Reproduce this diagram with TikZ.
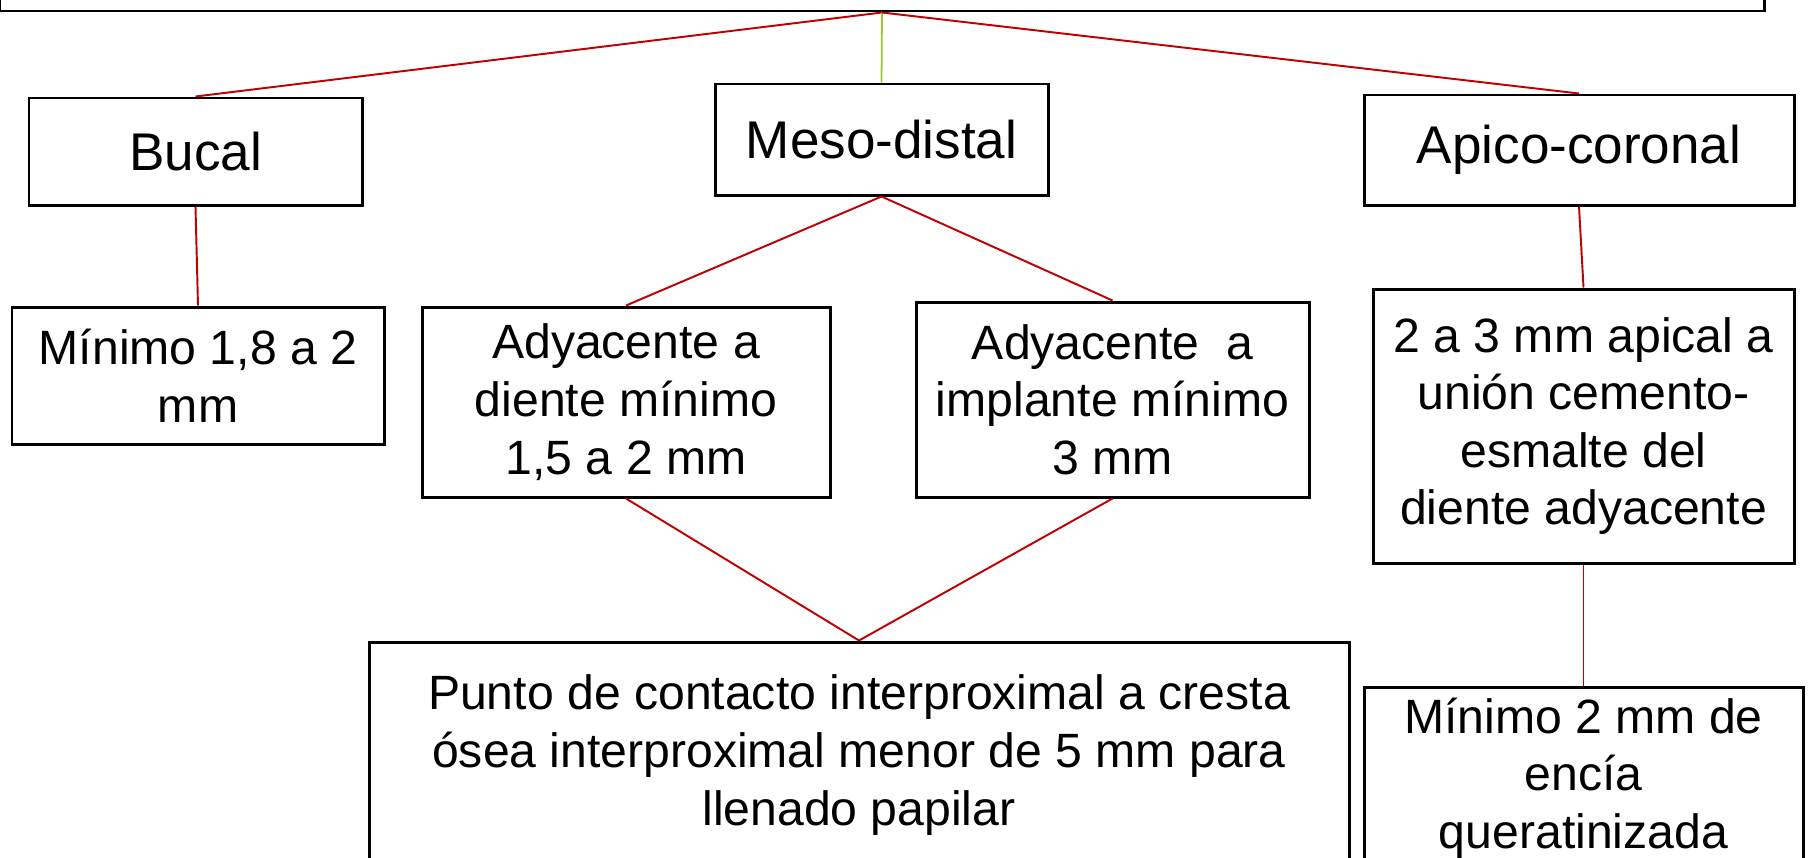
\documentclass[tikz,border=0pt]{standalone}
\usepackage{fontspec}
\setmainfont{Liberation Sans}
\usepackage{xcolor}
\usepackage{tikz}
\usetikzlibrary{positioning}
\definecolor{linkred}{RGB}{192,0,0}
\definecolor{linkgreen}{RGB}{155,200,50}
\tikzstyle{block} = [rectangle, draw, line width=0.85pt, fill=white,
    align=center, inner sep=0pt, font=\fontsize{13.7}{16.4}\selectfont]
\tikzstyle{head} = [block, font=\fontsize{15.1}{18}\selectfont]
\tikzstyle{line} = [draw, linkred, line width=0.55pt]
\tikzstyle{mainline} = [draw, linkgreen, line width=0.5pt]

\begin{document}
\begin{tikzpicture}
            \useasboundingbox (0,0) rectangle (18.08,-8.57);
            \clip (0,0) rectangle (18.08,-8.57);
            % Top
            \node [block, minimum width=17.64cm, minimum height=1cm] (top) at (8.82,0.39) {};
            
            % Second row
            \node [head, minimum width=3.33cm, minimum height=1.07cm] (bucal) at (1.955,-1.515) {Bucal};
            \node [head, minimum width=3.33cm, minimum height=1.11cm] (meso) at (8.815,-1.395) {Meso-distal};
            \node [head, minimum width=4.30cm, minimum height=1.10cm] (apico) at (15.79,-1.50) {Apico-coronal};
            
            % Third row
            \node [block, minimum width=3.72cm, minimum height=1.37cm] (bucalmin) at (1.98,-3.755) {Mínimo 1,8 a 2\\mm};
            \node [block, minimum width=4.08cm, minimum height=1.90cm] (diente) at (6.26,-4.02) {Adyacente a\\diente mínimo\\1,5 a 2 mm};
            \node [block, minimum width=3.93cm, minimum height=1.95cm] (implante) at (11.125,-3.995) {Adyacente \ a\\implante mínimo\\3 mm};
            \node [block, minimum width=4.21cm, minimum height=2.74cm] (apical) at (15.835,-4.26) {2 a 3 mm apical a\\unión cemento-\\esmalte del\\diente adyacente};
            
            % Bottom row
            \node [block, minimum width=9.80cm, minimum height=2.26cm] (punto) at (8.59,-7.55) {Punto de contacto interproximal a cresta\\ósea interproximal menor de 5 mm para\\llenado papilar};
            \node [block, minimum width=4.39cm, minimum height=1.82cm] (encia) at (15.835,-7.78) {Mínimo 2 mm de\\encía\\queratinizada};
            
            % Connect everything
            \path [line] (top.south) -- (bucal.north);
            \path [mainline] (top.south) -- (meso.north);
            \path [line] (top.south) -- (apico.north);
            \path [line] (bucal.south) -- (bucalmin.north);
            \path [line] (meso.south) -- (diente.north);
            \path [line] (meso.south) -- (implante.north);
            \path [line] (diente.south) -- (punto.north);
            \path [line] (implante.south) -- (punto.north);
            \path [line] (apico.south) -- (apical.north);
            \path [line] (apical.south) -- (encia.north);
        \end{tikzpicture}
\end{document}
